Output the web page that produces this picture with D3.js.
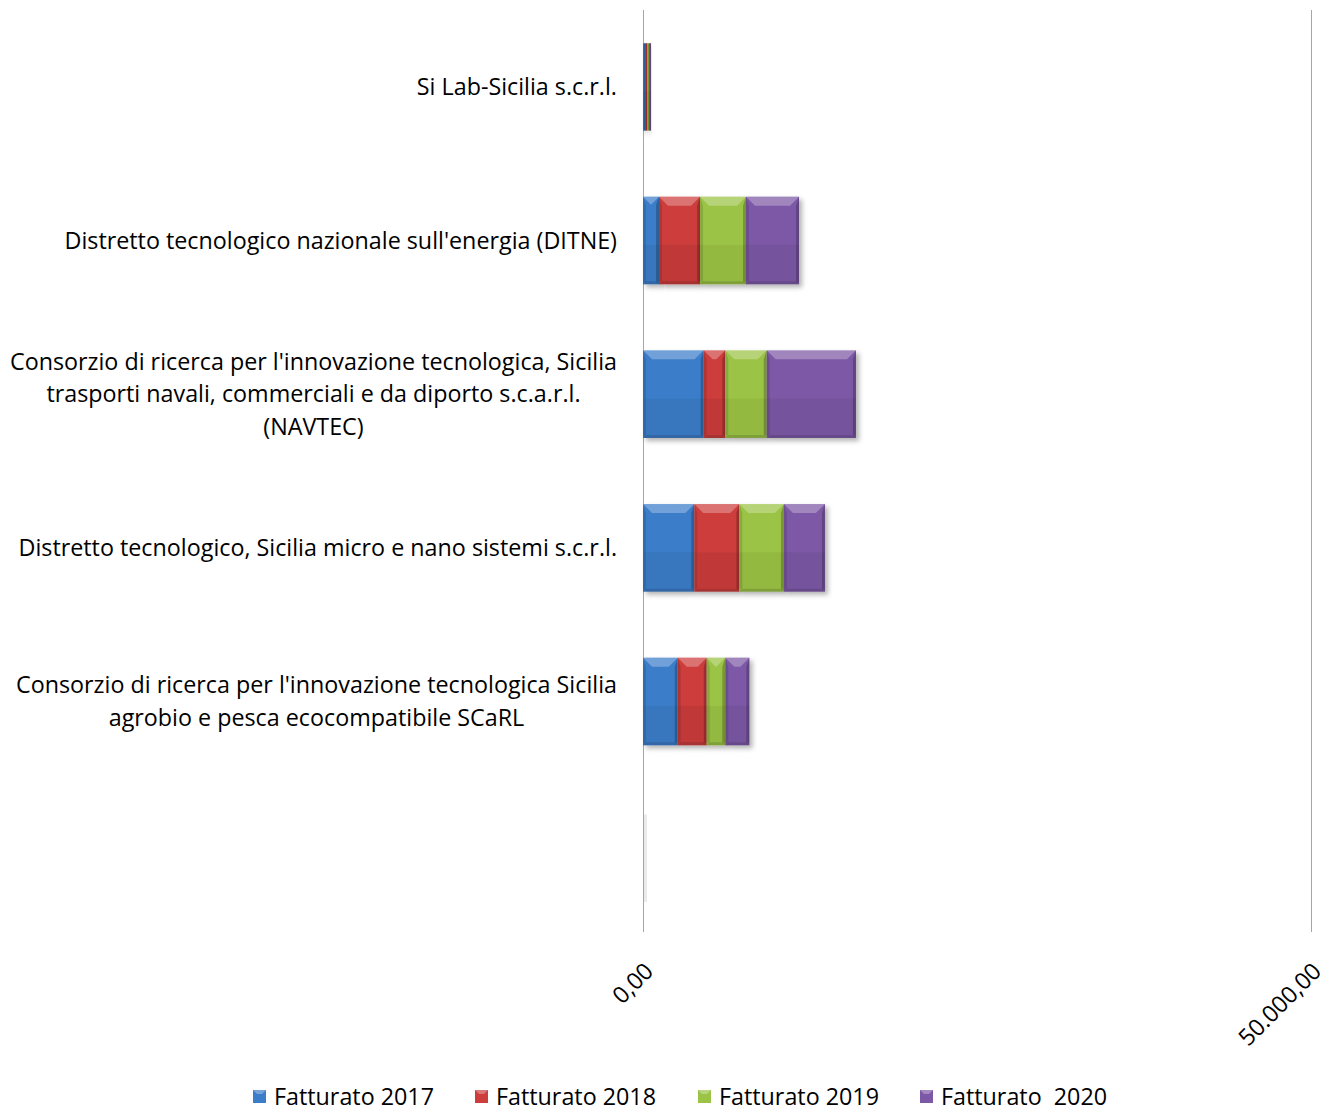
<!DOCTYPE html>
<html><head><meta charset="utf-8">
<script src="https://cdn.jsdelivr.net/npm/d3@7"></script>
<style>body{margin:0;background:#fff}</style>
</head><body><svg id="c" width="1331" height="1113"></svg>
<script>
const categories = [
  "Si Lab-Sicilia s.c.r.l.",
  "Distretto tecnologico nazionale sull'energia (DITNE)",
  "Consorzio di ricerca per l'innovazione tecnologica, Sicilia\ntrasporti navali, commerciali e da diporto s.c.a.r.l.\n(NAVTEC)",
  "Distretto tecnologico, Sicilia micro e nano sistemi s.c.r.l.",
  "Consorzio di ricerca per l'innovazione tecnologica Sicilia\nagrobio e pesca ecocompatibile SCaRL",
  ""
];
const seriesNames = ["Fatturato 2017", "Fatturato 2018", "Fatturato 2019", "Fatturato  2020"];
const fatturato2017 = [150, 1200, 4540, 3840, 2600, 0];
const fatturato2018 = [150, 3070, 1620, 3370, 2170, 0];
const fatturato2019 = [150, 3440, 3100, 3340, 1390, 0];
const fatturato2020 = [150, 3970, 6680, 3070, 1800, 0];
const tickValues = [0, 50000];
const tickLabels = ["0,00", "50.000,00"];
const colors = ["#3b7dc9", "#cc3d3b", "#9bc345", "#7d58a6"];

const FONT = "'Open Sans', 'Noto Sans', sans-serif";
const FS = 23.3;
const svg = d3.select("#c");
const defs = svg.append("defs");
const f = defs.append("filter").attr("id","sh").attr("x","-20%").attr("y","-20%").attr("width","150%").attr("height","150%");
f.append("feDropShadow").attr("dx",3).attr("dy",3).attr("stdDeviation",2.5).attr("flood-color","#000").attr("flood-opacity",0.3);

const x = d3.scaleLinear().domain([0, 50000]).range([643, 1311]);
const y = d3.scaleBand().domain(d3.range(categories.length)).range([10, 932]).paddingInner(0.43).paddingOuter(0.215);

const series = [fatturato2017, fatturato2018, fatturato2019, fatturato2020];
const rows = categories.map((c, i) => {
  const o = {i}; seriesNames.forEach((s, k) => o["s"+k] = series[k][i]); return o;
});
const stack = d3.stack().keys(seriesNames.map((s,k)=>"s"+k))(rows);

// gridline/axes
svg.append("g").selectAll("line").data(tickValues).join("line")
  .attr("x1", d => Math.round(x(d))+0.5).attr("x2", d => Math.round(x(d))+0.5)
  .attr("y1", 10).attr("y2", 932).attr("stroke", "#a6a6a6").attr("stroke-width", 1);

// faint shadow for zero-value category
categories.forEach((c, i) => {
  if (d3.sum(series, s => s[i]) === 0) {
    svg.append("rect").attr("x", x(0)+1).attr("y", y(i)+3).attr("width", 3).attr("height", y.bandwidth())
      .attr("fill", "#000").attr("opacity", 0.08);
  }
});

// bars
const bars = svg.append("g");
stack.forEach((layer, k) => {
  layer.forEach((d, i) => {
    const x0 = x(d[0]), x1 = x(d[1]);
    const w = x1 - x0; if (w <= 0) return;
    const y0 = y(i), h = y.bandwidth(), y1 = y0 + h;
    const g = bars.append("g").attr("filter", "url(#sh)");
    g.append("rect").attr("x", x0).attr("y", y0).attr("width", w).attr("height", h).attr("fill", colors[k]);
    const b = Math.min(9, w/2);
    const bs = Math.min(3, w/2);
    const poly = (pts, fill, op) => g.append("polygon").attr("points", pts.map(p=>p.join(",")).join(" ")).attr("fill", fill).attr("opacity", op);
    poly([[x0,y0],[x1,y0],[x1-b,y0+b],[x0+b,y0+b]], "#fff", 0.28);
    poly([[x0,y1],[x1,y1],[x1-bs,y1-bs],[x0+bs,y1-bs]], "#000", 0.18);
    poly([[x0,y0],[x0+bs,y0+b],[x0+bs,y1-bs],[x0,y1]], "#000", 0.12);
    poly([[x1,y0],[x1-bs,y0+b],[x1-bs,y1-bs],[x1,y1]], "#000", 0.22);
    g.append("rect").attr("x", x0).attr("y", y0+h*0.55).attr("width", w).attr("height", h*0.45-bs).attr("fill","#000").attr("opacity",0.05);
  });
});

// category labels
const lab = svg.append("g").attr("font-family", FONT).attr("font-size", FS).attr("fill", "#000");
categories.forEach((c, i) => {
  if (!c) return;
  const lines = c.split("\n");
  const lh = 32.5;
  const cy = y(i) + y.bandwidth()/2;
  const t = lab.append("text").attr("text-anchor", "middle");
  const ts = lines.map((l, j) => t.append("tspan").attr("y", cy + (j - (lines.length-1)/2)*lh).attr("dy", "0.35em").text(l));
  const maxW = d3.max(ts, s => s.node().getComputedTextLength());
  ts.forEach(s => s.attr("x", 617 - maxW/2));
});

// tick labels
svg.append("g").selectAll("text").data(tickValues).join("text")
  .attr("transform", d => `translate(${x(d)+6},${967}) rotate(-45)`)
  .attr("text-anchor", "end").attr("dy", "0.35em")
  .attr("font-family", FONT).attr("font-size", FS).attr("fill", "#000")
  .text((d, i) => tickLabels[i]);

// legend
const legX = [253, 475, 698, 920];
const lg = svg.append("g").attr("font-family", FONT).attr("font-size", FS);
seriesNames.forEach((s, k) => {
  const g = lg.append("g").attr("transform", `translate(${legX[k]},1090)`);
  g.append("rect").attr("x", 0).attr("y", 0).attr("width", 13).attr("height", 13).attr("fill", colors[k]);
  g.append("polygon").attr("points", "0,0 13,0 9,4 4,4").attr("fill", "#fff").attr("opacity", 0.3);
  g.append("text").attr("x", 21).attr("y", 6.5).attr("dy", "0.35em").attr("xml:space", "preserve").style("white-space","pre").text(s);
});
</script></body></html>
